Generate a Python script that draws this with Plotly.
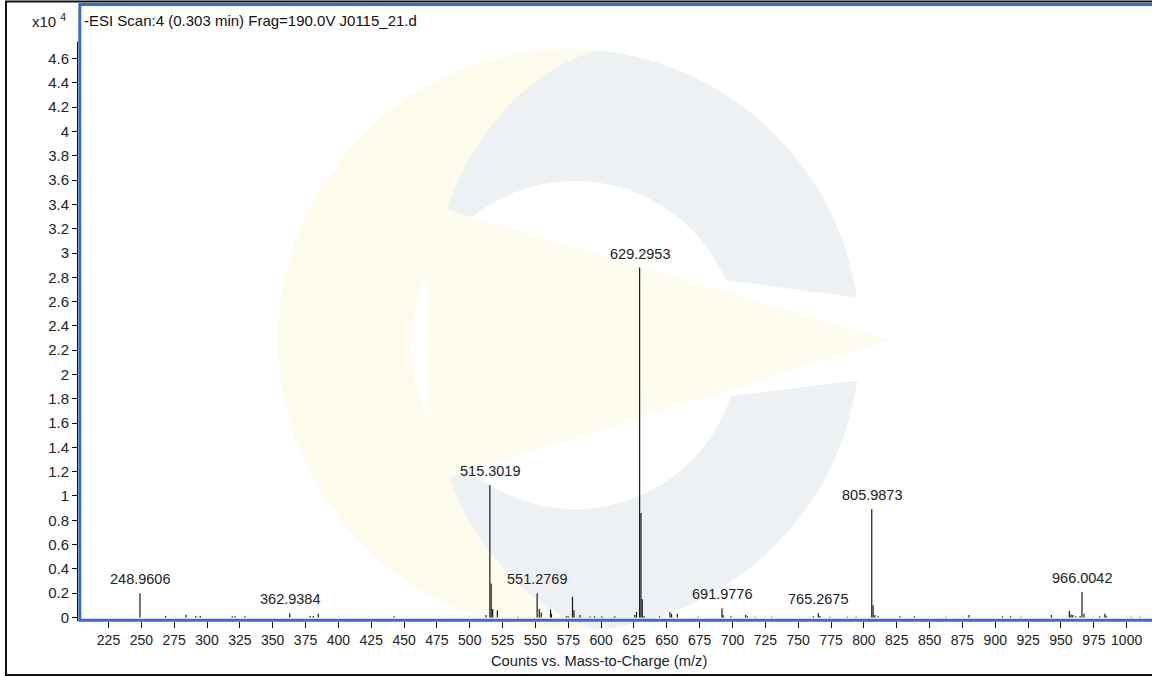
import numpy as np
import plotly.graph_objects as go

# ---------------- data (intensity in units of 10^4 counts) ----------------
peak_mz = [268.5, 284.0, 291.4, 294.9, 319.2, 321.3, 328.9, 362.9384, 378.4, 380.9, 384.7,
           442.3, 512.4, 515.3019, 516.305, 517.4, 521.0, 536.9, 551.2769, 552.9, 554.4,
           561.5, 562.2, 573.6, 574.9, 578.2, 579.3, 583.9, 591.5, 595.0, 600.5, 610.4,
           625.6, 626.9, 629.2953, 630.3, 631.3, 632.7, 644.5, 652.4, 653.6, 658.0, 673.7,
           691.9776, 692.9, 698.8, 710.0, 711.3, 717.1, 729.8, 761.5, 765.2675, 766.6,
           774.2, 787.4, 794.0, 805.9873, 807.0, 808.3, 810.8, 827.5, 838.4, 862.3, 880.0,
           905.6, 911.7, 919.6, 942.7, 956.4, 957.7, 959.0, 961.3, 964.6, 966.0042, 967.6,
           979.5, 983.5, 984.3, 1003.3, 1010.0, 248.9606]
peak_int = [0.012, 0.022, 0.012, 0.012, 0.010, 0.010, 0.010, 0.035, 0.012, 0.012, 0.030,
            0.010, 0.020, 1.09, 0.28, 0.07, 0.06, 0.006, 0.20, 0.07, 0.04,
            0.065, 0.03, 0.010, 0.010, 0.17, 0.06, 0.02, 0.008, 0.010, 0.010, 0.010,
            0.020, 0.045, 2.88, 0.86, 0.15, 0.012, 0.010, 0.045, 0.03, 0.03, 0.006,
            0.075, 0.02, 0.010, 0.02, 0.010, 0.006, 0.006, 0.010, 0.035, 0.015,
            0.006, 0.006, 0.006, 0.89, 0.10, 0.02, 0.010, 0.010, 0.010, 0.006, 0.02,
            0.010, 0.010, 0.006, 0.02, 0.055, 0.025, 0.02, 0.010, 0.010, 0.21, 0.03,
            0.010, 0.03, 0.015, 0.006, 0.006, 0.20]

label_mz = [248.9606, 362.9384, 515.3019, 551.2769, 629.2953, 691.9776, 765.2675, 805.9873, 966.0042]
label_text = ["248.9606", "362.9384", "515.3019", "551.2769", "629.2953",
              "691.9776", "765.2675", "805.9873", "966.0042"]

x_ticks = list(range(225, 1001, 25))
y_ticks = [0, 0.2, 0.4, 0.6, 0.8, 1, 1.2, 1.4, 1.6, 1.8, 2, 2.2, 2.4, 2.6, 2.8,
           3, 3.2, 3.4, 3.6, 3.8, 4, 4.2, 4.4, 4.6]
y_tick_text = [f"{v:g}" for v in y_ticks]

scan_title = "-ESI Scan:4 (0.303 min) Frag=190.0V J0115_21.d"
x_title = "Counts vs. Mass-to-Charge (m/z)"
y_scale = "x10 <sup>4</sup>"

# ---------------- layout geometry ----------------
W, H = 1152, 676
ML, MR, MT, MB = 78, 0, 3, 55
PW, PH = W - ML - MR, H - MT - MB
FONT = "Liberation Sans, Arial, sans-serif"


def px(x):
    return (x - ML) / PW


def py(y):
    return (H - MB - y) / PH


def path_from(points):
    return "M " + " L ".join(f"{px(a):.5f},{py(b):.5f}" for a, b in points) + " Z"


# ---------------- stick spectrum ----------------
xs, ys = [], []
for m, h in zip(peak_mz, peak_int):
    xs += [m, m, None]
    ys += [0, h, None]

fig = go.Figure()
fig.add_trace(go.Scatter(x=xs, y=ys, mode="lines",
                         line=dict(color="#1a1a1a", width=1.2),
                         hoverinfo="skip", showlegend=False))

lookup = dict(zip(peak_mz, peak_int))
for m, t in zip(label_mz, label_text):
    fig.add_annotation(x=m, y=lookup[m], text=t, showarrow=False,
                       xanchor="center", yanchor="bottom", yshift=4,
                       font=dict(family=FONT, size=14.5, color="#222"))

# ---------------- watermark (decorative background logo) ----------------
shapes = []
th = np.linspace(0, 2 * np.pi, 200)
cx, cy, R = 569, 340, 291
disk = [(cx + R * np.cos(t), cy + R * np.sin(t)) for t in th]
shapes.append(dict(type="path", path=path_from(disk), xref="paper", yref="paper",
                   fillcolor="#fcfbec", line=dict(width=0), layer="below"))
ex, ey, rx, ry = 642, 340, 218, 296
gray = []
for t in th:
    gx, gy = ex + rx * np.cos(t), ey + ry * np.sin(t)
    d = np.hypot(gx - cx, gy - cy)
    if d > R:
        gx, gy = cx + (gx - cx) * R / d, cy + (gy - cy) * R / d
    gray.append((gx, gy))
shapes.append(dict(type="path", path=path_from(gray), xref="paper", yref="paper",
                   fillcolor="#eef1f4", line=dict(width=0), layer="below"))
hx, hy, hr = 575, 345, 164
hole = [(hx + hr * np.cos(t), hy + hr * np.sin(t)) for t in th]
shapes.append(dict(type="path", path=path_from(hole), xref="paper", yref="paper",
                   fillcolor="white", line=dict(width=0), layer="below"))
channel = [(700, 280), (725, 280), (860, 298), (880, 298), (880, 380),
           (860, 380), (725, 397), (700, 397)]
shapes.append(dict(type="path", path=path_from(channel), xref="paper", yref="paper",
                   fillcolor="white", line=dict(width=0), layer="below"))
wedge = [(428, 204), (888, 340), (428, 484)]
shapes.append(dict(type="path", path=path_from(wedge), xref="paper", yref="paper",
                   fillcolor="#fdfcee", line=dict(width=0), layer="below"))

# outer black frame
shapes.append(dict(type="rect", xref="paper", yref="paper",
                   x0=px(6), x1=px(1165), y0=py(675), y1=py(1.5),
                   line=dict(color="#111", width=2), fillcolor="rgba(0,0,0,0)", layer="above"))
# blue panel frame
shapes.append(dict(type="rect", xref="paper", yref="paper",
                   x0=px(79.8), x1=px(1170), y0=py(620.3), y1=py(4.5),
                   line=dict(color="#3a6dcb", width=3), fillcolor="rgba(0,0,0,0)", layer="above"))
# black y axis line
shapes.append(dict(type="line", xref="paper", yref="y", x0=px(77.5), x1=px(77.5),
                   y0=-0.03, y1=4.74, line=dict(color="#111", width=1), layer="above"))

fig.update_layout(shapes=shapes)

fig.add_annotation(xref="paper", yref="paper", x=px(68), y=py(21), text=y_scale,
                   showarrow=False, xanchor="right", yanchor="middle",
                   font=dict(family=FONT, size=15, color="#222"))
fig.add_annotation(xref="paper", yref="paper", x=px(82), y=py(21), text=scan_title,
                   showarrow=False, xanchor="left", yanchor="middle",
                   font=dict(family=FONT, size=15, color="#111"))
fig.add_annotation(xref="paper", yref="paper", x=px(599), y=py(661), text=x_title,
                   showarrow=False, xanchor="center", yanchor="middle",
                   font=dict(family=FONT, size=14.7, color="#222"))

fig.update_xaxes(range=[201.8, 1019.3], tickvals=x_ticks, ticks="outside", ticklen=6,
                 tickcolor="#111", tickwidth=1, showgrid=False, zeroline=False,
                 showline=False, tickfont=dict(family=FONT, size=14, color="#222"))
fig.update_yaxes(range=[-0.029, 5.058], tickvals=y_ticks, ticktext=y_tick_text,
                 ticks="outside", ticklen=5, tickcolor="#111", tickwidth=1,
                 showgrid=False, zeroline=False, showline=False,
                 tickfont=dict(family=FONT, size=15, color="#222"))

fig.update_layout(width=W, height=H, margin=dict(l=ML, r=MR, t=MT, b=MB),
                  paper_bgcolor="white", plot_bgcolor="white",
                  font=dict(family=FONT), showlegend=False)

fig.write_html("out.html", config={"displayModeBar": False},
               post_script="document.body.style.margin='0';document.body.style.overflow='hidden';")
